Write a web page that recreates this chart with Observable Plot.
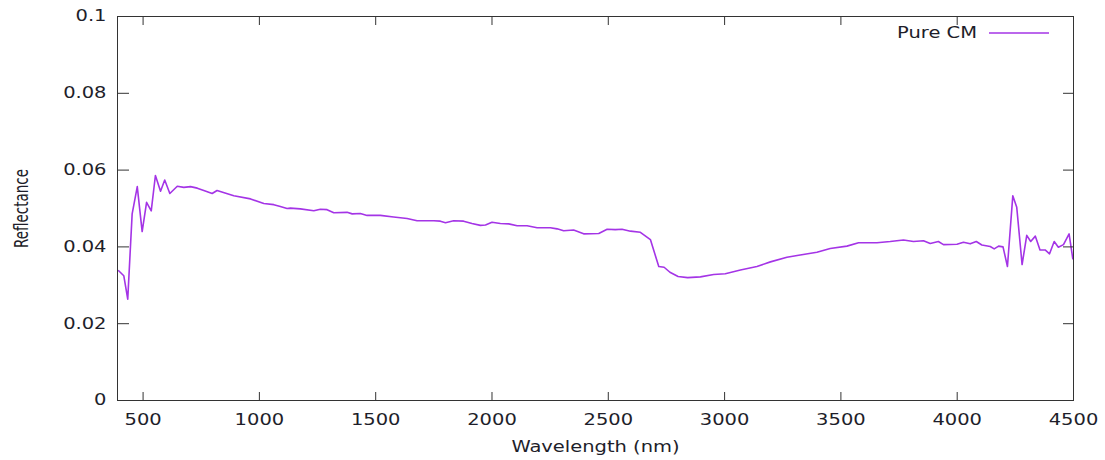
<!DOCTYPE html>
<html><head><meta charset="utf-8">
<script src="https://cdn.jsdelivr.net/npm/d3@7"></script>
<script src="https://cdn.jsdelivr.net/npm/@observablehq/plot@0.6"></script>
<style>
html,body{margin:0;padding:0;background:#fff;}
#chart{width:1105px;height:460px;}
</style></head><body><div id="chart"></div>
<script>
const wavelength = [395, 417, 434, 453, 475, 496, 515, 535, 553, 575, 593, 615, 647, 675, 704, 733, 761, 797, 818, 890, 962, 1019, 1062, 1090, 1119, 1133, 1176, 1234, 1262, 1291, 1320, 1377, 1399, 1434, 1463, 1520, 1577, 1635, 1678, 1750, 1778, 1800, 1835, 1878, 1914, 1950, 1972, 2000, 2036, 2072, 2108, 2151, 2194, 2251, 2280, 2308, 2351, 2394, 2459, 2495, 2530, 2559, 2595, 2638, 2681, 2717, 2740, 2765, 2800, 2841, 2896, 2953, 3003, 3068, 3139, 3197, 3268, 3325, 3397, 3454, 3526, 3576, 3655, 3712, 3769, 3812, 3855, 3884, 3919, 3941, 3999, 4027, 4056, 4082, 4106, 4142, 4159, 4178, 4197, 4216, 4239, 4256, 4279, 4299, 4316, 4336, 4356, 4378, 4397, 4417, 4435, 4457, 4481, 4497];
const reflectance = [0.0338, 0.0325, 0.0264, 0.0486, 0.0557, 0.0440, 0.0516, 0.0494, 0.0586, 0.0545, 0.0574, 0.0539, 0.0558, 0.0555, 0.0557, 0.0553, 0.0547, 0.0539, 0.0547, 0.0533, 0.0525, 0.0513, 0.0510, 0.0505, 0.0500, 0.0501, 0.0499, 0.0494, 0.0498, 0.0497, 0.0489, 0.0490, 0.0486, 0.0487, 0.0482, 0.0482, 0.0478, 0.0474, 0.0468, 0.0468, 0.0467, 0.0463, 0.0468, 0.0467, 0.0461, 0.0456, 0.0457, 0.0464, 0.0461, 0.0460, 0.0455, 0.0455, 0.0450, 0.0450, 0.0447, 0.0442, 0.0444, 0.0434, 0.0435, 0.0446, 0.0445, 0.0446, 0.0441, 0.0438, 0.0419, 0.0349, 0.0347, 0.0334, 0.0323, 0.0320, 0.0322, 0.0328, 0.0330, 0.0340, 0.0349, 0.0361, 0.0373, 0.0379, 0.0386, 0.0396, 0.0402, 0.0411, 0.0411, 0.0414, 0.0418, 0.0414, 0.0416, 0.0409, 0.0414, 0.0406, 0.0407, 0.0412, 0.0408, 0.0414, 0.0405, 0.0401, 0.0395, 0.0402, 0.0400, 0.0349, 0.0533, 0.0503, 0.0354, 0.0430, 0.0414, 0.0428, 0.0392, 0.0392, 0.0382, 0.0414, 0.0399, 0.0406, 0.0434, 0.0369];
const xTicks = [500, 1000, 1500, 2000, 2500, 3000, 3500, 4000, 4500];
const yTicks = [0, 0.02, 0.04, 0.06, 0.08, 0.1];
const xDomain = [390, 4500];
const yDomain = [0, 0.1];
const seriesName = "Pure CM";
const xLabel = "Wavelength (nm)";
const yLabel = "Reflectance";

const data = wavelength.map((w, i) => ({w, r: reflectance[i]}));
const lineColor = "#a434e6";
const ink = "#1e1e2a";
const frameColor = "#333";

const legend = (index, scales, values, dims) => {
  const g = d3.create("svg:g");
  const xr = dims.width - dims.marginRight;
  const y = dims.marginTop + 17;
  g.append("line").attr("x1", xr - 84).attr("x2", xr - 24).attr("y1", y).attr("y2", y)
    .attr("stroke", lineColor).attr("stroke-width", 1.5);
  g.append("text").attr("transform", `translate(${xr - 96},${y})`).attr("text-anchor", "end")
    .attr("dy", "0.32em").attr("fill", ink).text(seriesName);
  return g.node();
};

const chart = Plot.plot({
  width: 1105, height: 460,
  marginLeft: 117, marginRight: 32, marginTop: 16, marginBottom: 60,
  style: {fontFamily: "DejaVu Sans", fontSize: "15px", color: ink, background: "#fff"},
  x: {domain: xDomain},
  y: {domain: yDomain},
  marks: [
    Plot.line(data, {x: "w", y: "r", stroke: lineColor, strokeWidth: 1.6}),
    Plot.frame({stroke: frameColor, strokeWidth: 1}),
    Plot.axisX(xTicks, {anchor: "bottom", tickSize: -8, tickFormat: () => "", label: null, stroke: frameColor}),
    Plot.axisX(xTicks, {anchor: "top", tickSize: -8, tickFormat: () => "", label: null, stroke: frameColor}),
    Plot.axisX(xTicks, {anchor: "bottom", tickSize: 0, tickPadding: 14, tickFormat: d => String(d), label: null, fill: ink}),
    Plot.axisY(yTicks, {anchor: "left", tickSize: -12, tickFormat: () => "", label: null, stroke: frameColor}),
    Plot.axisY(yTicks, {anchor: "right", tickSize: -11, tickFormat: () => "", label: null, stroke: frameColor}),
    Plot.axisY(yTicks, {anchor: "left", tickSize: 0, tickPadding: 11, tickFormat: d => String(d), label: null, fill: ink}),
    Plot.text([yLabel], {text: d => d, frameAnchor: "left", dx: -96, rotate: -90, textAnchor: "middle", lineAnchor: "middle", fill: ink}),
    Plot.text([xLabel], {text: d => d, frameAnchor: "bottom", dy: 47, textAnchor: "middle", lineAnchor: "middle", fill: ink}),
    legend
  ]
});

// the reference image is stretched horizontally; widen glyphs to match
d3.select(chart).selectAll("text").each(function() {
  let t = this.getAttribute("transform") || "";
  const xa = this.getAttribute("x");
  if (xa && !/em/.test(xa) && !isNaN(+xa)) {
    const ya = this.getAttribute("y");
    const yn = (ya && !/em/.test(ya) && !isNaN(+ya)) ? +ya : 0;
    t = `${t} translate(${+xa},${yn})`;
    this.removeAttribute("x");
    if (yn) this.removeAttribute("y");
  }
  const rotated = /rotate/.test(t);
  this.setAttribute("transform", t + (rotated ? " scale(0.9,1.3)" : " scale(1.3,1)"));
});

document.getElementById("chart").appendChild(chart);
</script>
</body></html>
